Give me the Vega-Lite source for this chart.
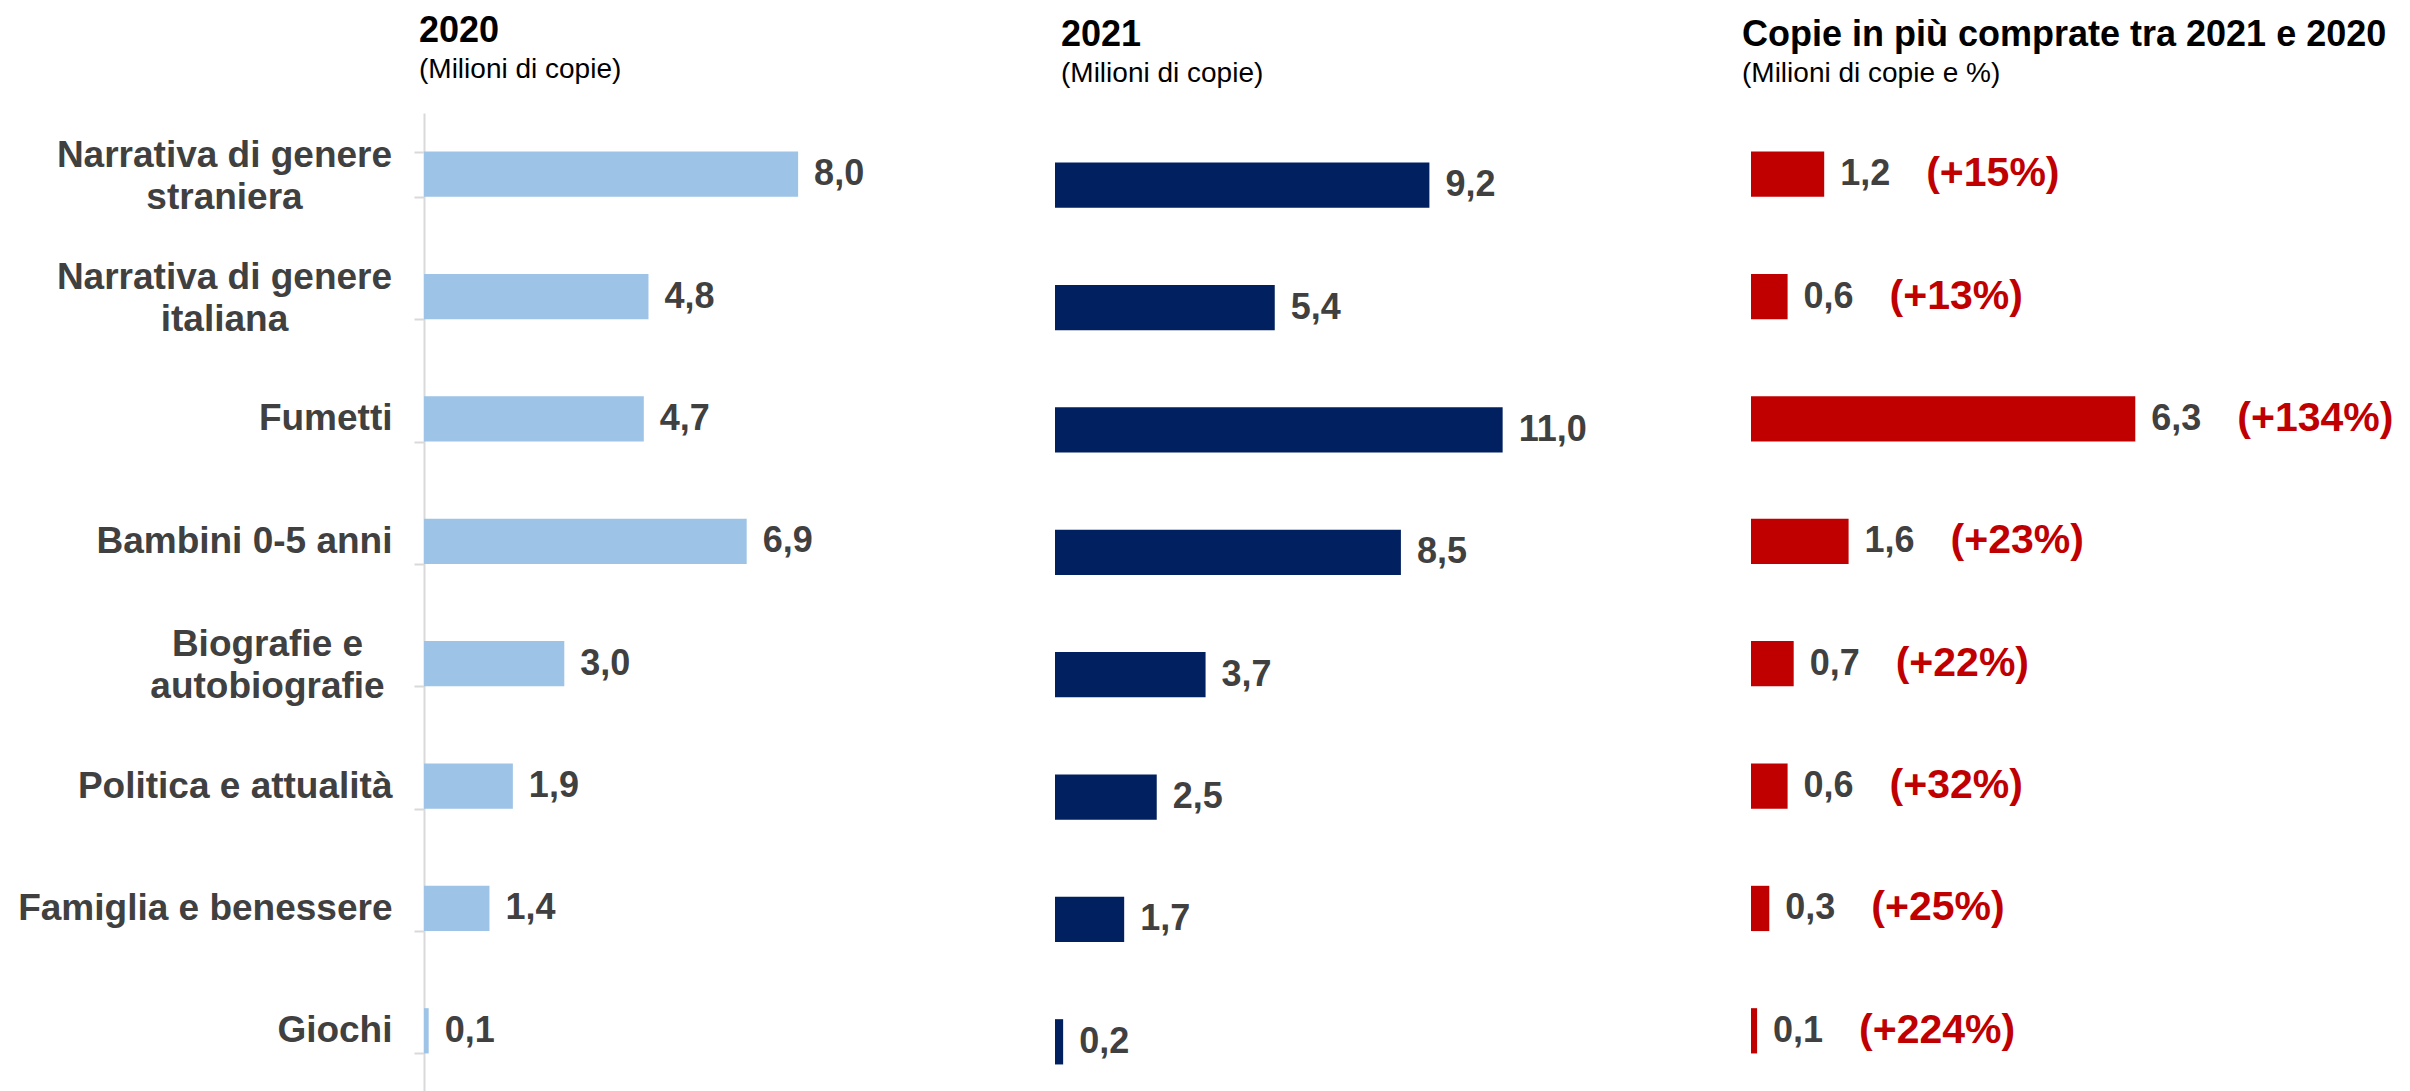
{
  "$schema": "https://vega.github.io/schema/vega-lite/v6.json",
  "padding": {"left": 17, "top": 13, "right": 0, "bottom": 0},
  "background": "white",
  "config": {
    "locale": {"number": {"decimal": ",", "thousands": ".", "grouping": [3], "currency": ["€", ""]}},
    "view": {"stroke": null},
    "font": "Liberation Sans",
    "title": {"anchor": "start", "frame": "group", "font": "Liberation Sans", "fontSize": 36, "fontWeight": "bold", "color": "#000000", "subtitleFont": "Liberation Sans", "subtitleFontSize": 28, "subtitleColor": "#000000", "subtitlePadding": 6, "offset": 24}
  },
  "data": {"values": [
    {"genere": "Narrativa di genere straniera", "v2020": 8.0, "v2021": 9.2, "diff": 1.2, "pct": 15},
    {"genere": "Narrativa di genere italiana", "v2020": 4.8, "v2021": 5.4, "diff": 0.6, "pct": 13},
    {"genere": "Fumetti", "v2020": 4.7, "v2021": 11.0, "diff": 6.3, "pct": 134},
    {"genere": "Bambini 0-5 anni", "v2020": 6.9, "v2021": 8.5, "diff": 1.6, "pct": 23},
    {"genere": "Biografie e autobiografie", "v2020": 3.0, "v2021": 3.7, "diff": 0.7, "pct": 22},
    {"genere": "Politica e attualità", "v2020": 1.9, "v2021": 2.5, "diff": 0.6, "pct": 32},
    {"genere": "Famiglia e benessere", "v2020": 1.4, "v2021": 1.7, "diff": 0.3, "pct": 25},
    {"genere": "Giochi", "v2020": 0.1, "v2021": 0.2, "diff": 0.1, "pct": 224}
  ]},
  "spacing": 31,
  "resolve": {"scale": {"x": "independent", "y": "independent"}},
  "hconcat": [
    {
      "width": 600,
      "height": 979,
      "title": {"text": "2020", "subtitle": "(Milioni di copie)", "dx": -5, "offset": 9},
      "encoding": {
        "y": {
          "field": "genere", "type": "nominal", "sort": null,
          "scale": {"paddingInner": 0.63, "paddingOuter": 0.315},
          "axis": {
            "title": null,
            "domainColor": "#d9d9d9", "domainWidth": 2,
            "ticks": true, "tickColor": "#d9d9d9", "tickWidth": 2, "tickSize": 10, "tickBand": "extent",
            "labelFont": "Liberation Sans", "labelFontSize": 37, "labelFontWeight": "bold",
            "labelColor": "#404040", "labelLimit": 0, "labelLineHeight": 42,
            "labelOffset": {"condition": {"test": "datum.value == 'Narrativa di genere straniera' || datum.value == 'Narrativa di genere italiana' || datum.value == 'Biografie e autobiografie'", "value": -19}, "value": 0},
            "labelAlign": {"condition": {"test": "datum.value == 'Narrativa di genere straniera' || datum.value == 'Narrativa di genere italiana' || datum.value == 'Biografie e autobiografie'", "value": "center"}, "value": "right"},
            "labelPadding": {"condition": [
              {"test": "datum.value == 'Narrativa di genere straniera' || datum.value == 'Narrativa di genere italiana'", "value": 190},
              {"test": "datum.value == 'Biografie e autobiografie'", "value": 147}
            ], "value": 22},
            "labelExpr": "datum.label == 'Narrativa di genere straniera' ? ['Narrativa di genere', 'straniera'] : datum.label == 'Narrativa di genere italiana' ? ['Narrativa di genere', 'italiana'] : datum.label == 'Biografie e autobiografie' ? ['Biografie e', 'autobiografie'] : datum.label"
          }
        },
        "x": {"field": "v2020", "type": "quantitative", "scale": {"domain": [0, 12.83]}, "axis": null}
      },
      "layer": [
        {"mark": {"type": "bar", "color": "#9dc3e6"}},
        {
          "mark": {"type": "text", "align": "left", "baseline": "middle", "dx": 16, "font": "Liberation Sans", "fontSize": 36, "fontWeight": "bold", "color": "#404040"},
          "encoding": {"text": {"field": "v2020", "type": "quantitative", "format": ".1f"}}
        }
      ]
    },
    {
      "width": 656,
      "height": 979,
      "title": {"text": "2021", "subtitle": "(Milioni di copie)", "dx": 6},
      "encoding": {
        "y": {"field": "genere", "type": "nominal", "sort": null, "scale": {"paddingInner": 0.63, "paddingOuter": 0.315}, "axis": null},
        "x": {"field": "v2021", "type": "quantitative", "scale": {"domain": [0, 16.12]}, "axis": null}
      },
      "layer": [
        {"mark": {"type": "bar", "color": "#002060", "yOffset": 11}},
        {
          "mark": {"type": "text", "align": "left", "baseline": "middle", "dx": 16, "yOffset": 11, "font": "Liberation Sans", "fontSize": 36, "fontWeight": "bold", "color": "#404040"},
          "encoding": {"text": {"field": "v2021", "type": "quantitative", "format": ".1f"}}
        }
      ]
    },
    {
      "width": 660,
      "height": 979,
      "title": {"text": "Copie in più comprate tra 2021 e 2020", "subtitle": "(Milioni di copie e %)", "dx": -9},
      "encoding": {
        "y": {"field": "genere", "type": "nominal", "sort": null, "scale": {"paddingInner": 0.63, "paddingOuter": 0.315}, "axis": null},
        "x": {"field": "diff", "type": "quantitative", "scale": {"domain": [0, 10.82]}, "axis": null}
      },
      "layer": [
        {"mark": {"type": "bar", "color": "#c00000"}},
        {
          "mark": {"type": "text", "align": "left", "baseline": "middle", "dx": 16, "font": "Liberation Sans", "fontSize": 36, "fontWeight": "bold", "color": "#404040"},
          "encoding": {"text": {"field": "diff", "type": "quantitative", "format": ".1f"}}
        },
        {
          "transform": [{"calculate": "'(+' + datum.pct + '%)'", "as": "pctLabel"}],
          "mark": {"type": "text", "align": "left", "baseline": "middle", "dx": 102, "font": "Liberation Sans", "fontSize": 41, "fontWeight": "bold", "color": "#c00000"},
          "encoding": {"text": {"field": "pctLabel", "type": "nominal"}}
        }
      ]
    }
  ]
}
